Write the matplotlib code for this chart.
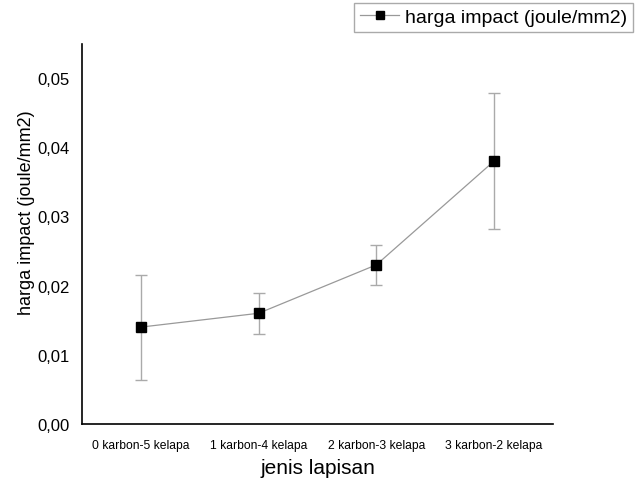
import numpy as np
import matplotlib.pyplot as plt

categories = ['0 karbon-5 kelapa', '1 karbon-4 kelapa', '2 karbon-3 kelapa', '3 karbon-2 kelapa']
impact = [0.014, 0.016, 0.023, 0.038]
err = [0.0076, 0.003, 0.0029, 0.0098]

plt.rcParams['font.family'] = ['Liberation Sans', 'DejaVu Sans']

fig = plt.figure(figsize=(6.42, 4.81), dpi=100)
ax = fig.add_axes([0.1277, 0.1164, 0.7337, 0.79])

x = np.arange(len(categories))
ax.errorbar(x, impact, yerr=err, fmt='none', ecolor='#aaaaaa', elinewidth=1.0,
            capsize=4, capthick=1.0, zorder=1)
ax.plot(x, impact, '-', color='#999999', lw=0.9, marker='s', ms=7,
        mfc='black', mec='black', label='harga impact (joule/mm2)', zorder=2)

ax.set_xlim(-0.5, 3.5)
ax.set_ylim(0, 0.0549)
ax.set_yticks([0, 0.01, 0.02, 0.03, 0.04, 0.05])
ax.set_yticklabels(['0,00', '0,01', '0,02', '0,03', '0,04', '0,05'], fontsize=12)
ax.set_xticks(x)
ax.set_xticklabels(categories, fontsize=8.7)
ax.tick_params(axis='y', length=0, pad=9)
ax.tick_params(axis='x', length=0, pad=11)

for s in ['top', 'right']:
    ax.spines[s].set_visible(False)
ax.spines['left'].set_linewidth(1.2)
ax.spines['bottom'].set_linewidth(1.2)

ax.set_xlabel('jenis lapisan', fontsize=15)
ax.xaxis.set_label_coords(0.5, -0.09)
ax.set_ylabel('harga impact (joule/mm2)', fontsize=13)
ax.yaxis.set_label_coords(-0.1, 0.56)

leg = fig.legend(loc='upper right', bbox_to_anchor=(0.986, 0.992), fontsize=14,
                 fancybox=False, edgecolor='#aaaaaa', framealpha=1,
                 handlelength=2.0, borderpad=0.3, handletextpad=0.3,
                 borderaxespad=0, markerscale=0.8)
leg.get_frame().set_linewidth(1.0)

fig.savefig('out.png', dpi=100)
